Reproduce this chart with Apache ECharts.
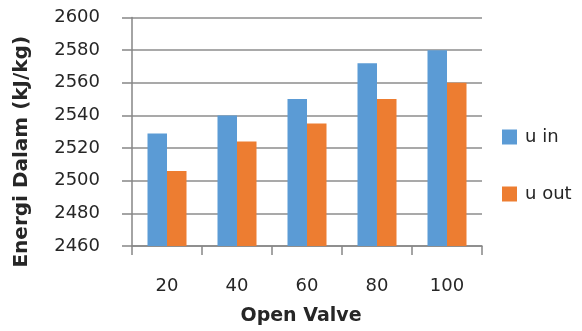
<!DOCTYPE html>
<html>
<head>
<meta charset="utf-8">
<script src="https://cdn.jsdelivr.net/npm/echarts@6/dist/echarts.min.js"></script>
<style>html,body{margin:0;padding:0;background:#fff;}#c{width:582px;height:331px;}</style>
</head>
<body>
<div id="c"></div>
<script>
const categories = ['20', '40', '60', '80', '100'];
const uIn = [2529, 2540, 2550, 2572, 2580];
const uOut = [2506, 2524, 2535, 2550, 2560];
const seriesNames = ['u in', 'u out'];

const chart = echarts.init(document.getElementById('c'), null, {renderer: 'canvas'});
const font = 'DejaVu Sans';
chart.setOption({
  animation: false,
  backgroundColor: '#fff',
  grid: {left: 132, right: 100, top: 17.5, bottom: 83},
  legend: {
    orient: 'vertical', left: 497, top: 123,
    itemWidth: 15, itemHeight: 15, itemGap: 39,
    icon: 'rect',
    textStyle: {fontFamily: font, fontSize: 18, color: '#262626', padding: [0, 0, 0, 3]},
    data: seriesNames
  },
  xAxis: {
    type: 'category', data: categories,
    name: 'Open Valve', nameLocation: 'middle', nameGap: 61,
    nameTextStyle: {fontFamily: font, fontSize: 19, fontWeight: 'bold', color: '#262626', padding: [0, 12, 0, 0]},
    axisLine: {lineStyle: {color: '#868686', width: 1.5}},
    axisTick: {show: true, length: 9, lineStyle: {color: '#868686', width: 1.5}},
    axisLabel: {fontFamily: font, fontSize: 18, color: '#262626', margin: 31}
  },
  yAxis: {
    type: 'value', min: 2460, max: 2600, interval: 20,
    name: 'Energi Dalam (kJ/kg)', nameLocation: 'middle', nameGap: 100, nameRotate: 90,
    nameTextStyle: {fontFamily: font, fontSize: 20, fontWeight: 'bold', color: '#262626', padding: [0, 40, 0, 0]},
    axisLine: {show: true, lineStyle: {color: '#868686', width: 1.5}},
    axisTick: {show: true, length: 10, lineStyle: {color: '#868686', width: 1.5}},
    axisLabel: {fontFamily: font, fontSize: 18, color: '#262626', margin: 32, formatter: v => String(v)},
    splitLine: {lineStyle: {color: '#8c8c8c', width: 1.5}}
  },
  series: [
    {name: seriesNames[0], type: 'bar', data: uIn, barWidth: 19.5, barGap: '0%', itemStyle: {color: '#5B9BD5'}},
    {name: seriesNames[1], type: 'bar', data: uOut, barWidth: 19.5, barGap: '0%', itemStyle: {color: '#ED7D31'}}
  ]
});
</script>
</body>
</html>
